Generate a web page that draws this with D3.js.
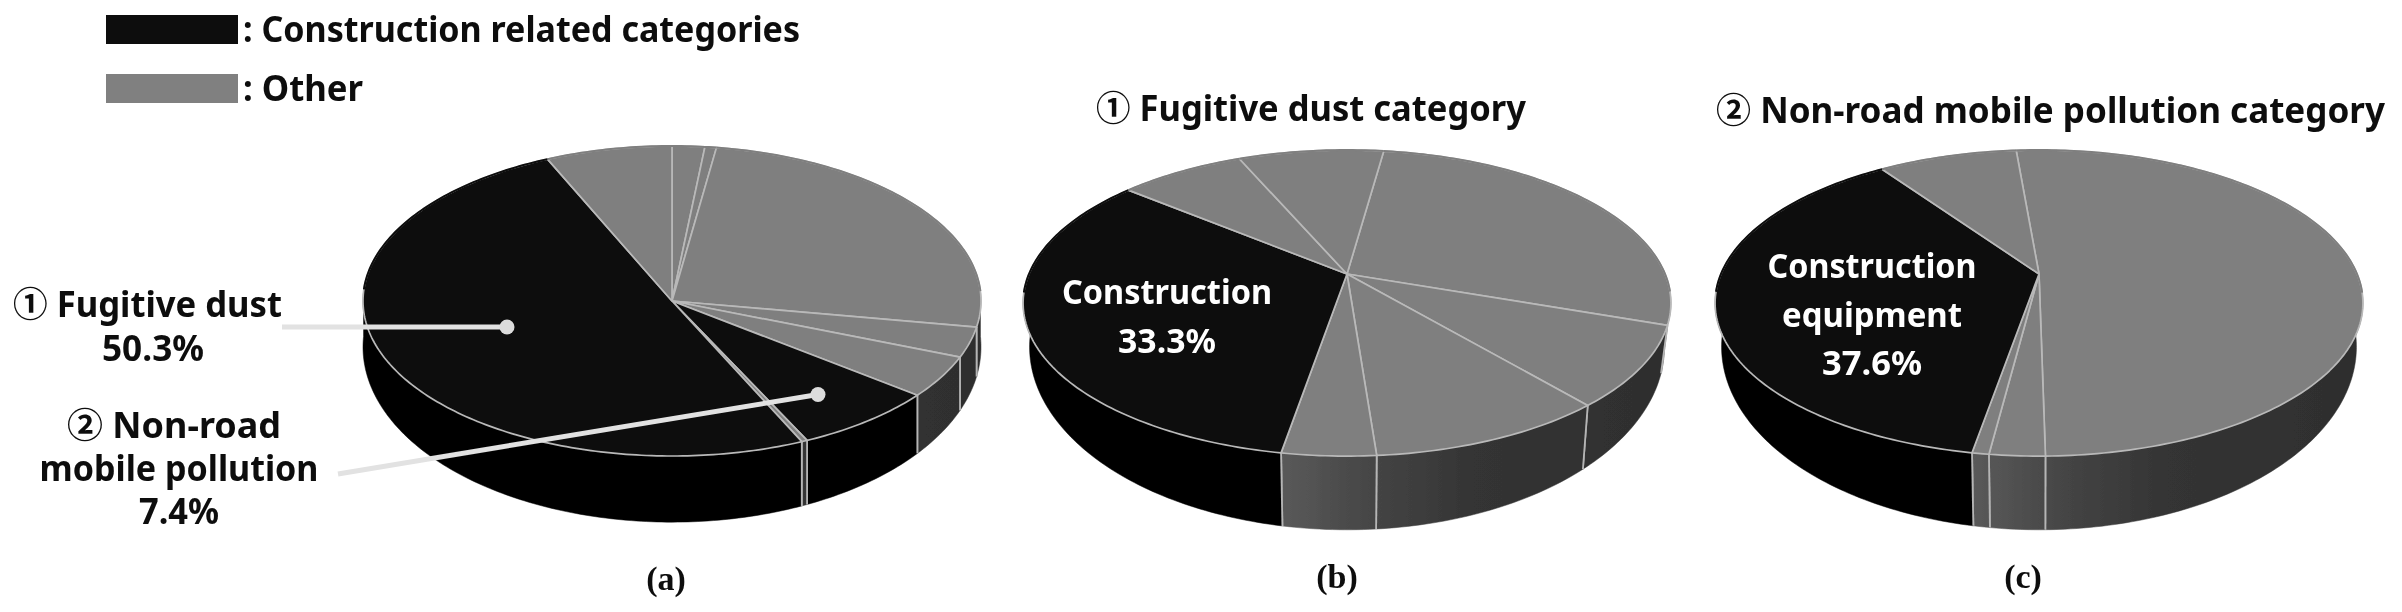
<!DOCTYPE html>
<html><head><meta charset="utf-8">
<script src="https://cdn.jsdelivr.net/npm/d3@7"></script>
<style>html,body{margin:0;padding:0;background:#fff;overflow:hidden}
text{font-family:"Noto Sans","Noto Sans CJK KR",sans-serif;font-weight:700;fill:#0a0a0a}
.cap{font-family:"Liberation Serif",serif;font-weight:700}
</style></head><body><svg id="c" width="2402" height="612"></svg>
<script>
// share of each slice (percent), clockwise; "c" = construction related, "o" = other
const valuesA = [1.7, 0.6, 25.4, 3.2, 4.5, 7.4, 0.3, 50.3, 6.6];
const groupsA = ["o","o","o","o","o","c","o","c","o"];
const valuesB = [28.1, 8.5, 10.0, 3.9, 33.3, 7.5, 8.7];
const groupsB = ["o","o","o","o","c","o","o"];
const valuesC = [51.1, 2.3, 0.7, 37.6, 8.3];
const groupsC = ["o","o","o","c","o"];
const startA = 0, startB = 7.9, startC = 355.1;
const legendLabels = [": Construction related categories", ": Other"];

const svg = d3.select("#c");
const defs = svg.append("defs");
defs.append("filter").attr("id","soft").attr("x","-5%").attr("y","-5%").attr("width","110%").attr("height","110%")
  .append("feGaussianBlur").attr("stdDeviation",0.7);
const root = svg.append("g").attr("filter","url(#soft)");

function drawPie(id, values, groups, startDeg, cfg){
  const {cx, cy, a, b, k, dz, sx, sy} = cfg;
  const pie = d3.pie().sort(null).startAngle(startDeg*Math.PI/180).endAngle((startDeg+360)*Math.PI/180);
  const arcs = pie(values);
  const top = t => { const u=Math.sin(t), v=-Math.cos(t), w=1-k*v; return [cx+a*u/w, cy+b*v/w]; };
  const bot = t => { const p=top(t); return [cx+(p[0]-cx)*sx, cy+dz+(p[1]-cy)*sy]; };
  const line = d3.line();
  const samples = (t0,t1) => { const n=Math.max(2,Math.ceil(Math.abs(t1-t0)*60));
    return d3.range(n+1).map(i=>t0+(t1-t0)*i/n); };

  const grad = defs.append("linearGradient").attr("id","wall"+id).attr("gradientUnits","userSpaceOnUse")
    .attr("x1",cx-67).attr("x2",cx+318).attr("y1",0).attr("y2",0);
  [[0,"#5a5a5a"],[0.25,"#444444"],[0.5,"#343434"],[1,"#2e2e2e"]]
    .forEach(st=>grad.append("stop").attr("offset",st[0]).attr("stop-color",st[1]));

  const tr = Math.acos(-k)-0.06, tl = 2*Math.PI-Math.acos(-k)+0.06;
  const walls = root.append("g"), tops = root.append("g");
  arcs.forEach((d,i)=>{
    for (const off of [0, 2*Math.PI, -2*Math.PI]) {
      const t0=Math.max(d.startAngle+off,tr), t1=Math.min(d.endAngle+off,tl);
      if (t1<=t0) continue;
      const ss=samples(t0,t1);
      const poly=ss.map(top).concat(ss.slice().reverse().map(bot));
      const col=groups[i]==="c"?"#050505":`url(#wall${id})`;
      walls.append("path").attr("d",line(poly)+"Z").attr("fill",col).attr("stroke",col).attr("stroke-width",0.5);
      [[t0,d.startAngle+off],[t1,d.endAngle+off]].forEach(([t,e])=>{
        if (Math.abs(t-e)<1e-6) walls.append("path").attr("d",line([top(t),bot(t)]))
          .attr("stroke","#b5b5b5").attr("stroke-width",1.8).attr("fill","none");
      });
    }
  });
  arcs.forEach((d,i)=>{
    const rim=samples(d.startAngle,d.endAngle).map(top);
    tops.append("path").attr("d",line([[cx,cy],...rim])+"Z")
      .attr("fill",groups[i]==="c"?"#0c0c0c":"#7f7f7f")
      .attr("stroke","#b9b9b9").attr("stroke-width",1.7).attr("stroke-linejoin","round");
  });
  // no bright edge along the back of the disc
  arcs.forEach((d,i)=>{
    const ss=samples(d.startAngle,d.endAngle).filter(t=>{const n=((t%(2*Math.PI))+2*Math.PI)%(2*Math.PI);return n<tr||n>tl;});
    if(ss.length>1) tops.append("path").attr("d",line(ss.map(top))).attr("fill","none")
      .attr("stroke",groups[i]==="c"?"#0c0c0c":"#7f7f7f").attr("stroke-width",2);
  });
}

drawPie("A",valuesA,groupsA,startA,{cx:672,cy:301,a:309,b:155,k:0,dz:46,sx:1,sy:1.13});
drawPie("B",valuesB,groupsB,startB,{cx:1347,cy:274,a:318,b:147.5,k:0.19,dz:38,sx:0.98,sy:1.196});
drawPie("C",valuesC,groupsC,startC,{cx:2039,cy:274,a:318,b:147.5,k:0.19,dz:38,sx:0.98,sy:1.196});

// legend
[["#0a0a0a",15,29],["#808080",74,29]].forEach(r=>root.append("rect").attr("x",106).attr("y",r[1]).attr("width",132).attr("height",r[2]).attr("fill",r[0]));
const T=(x,y,s,o={})=>{const t=root.append("text").attr("x",x).attr("y",y).text(s).attr("font-size",o.fs||35).attr("text-anchor",o.a||"middle");
  if(o.w)t.attr("textLength",o.w).attr("lengthAdjust","spacingAndGlyphs");
  if(o.c)t.style("fill",o.c); if(o.cl)t.attr("class",o.cl); return t;};
T(243,42,legendLabels[0],{a:"start",w:557});
T(243,101,legendLabels[1],{a:"start",w:120});

// leader lines
[[282,327,507,327],[338,474,818,394.5]].forEach(l=>{
  root.append("line").attr("x1",l[0]).attr("y1",l[1]).attr("x2",l[2]).attr("y2",l[3]).attr("stroke","#e2e2e2").attr("stroke-width",5);
  root.append("circle").attr("cx",l[2]).attr("cy",l[3]).attr("r",7.5).attr("fill","#dcdcdc");
});

// labels
T(147.5,317,"① Fugitive dust",{w:269});
T(153,361,"50.3%",{w:102});
T(174,438,"② Non-road",{w:214});
T(179,481,"mobile pollution",{w:279});
T(179,524,"7.4%",{w:80});
T(1311,121,"① Fugitive dust category",{w:430});
T(2050.5,123,"② Non-road mobile pollution category",{w:669});
T(1167,304,"Construction",{c:"#fff",w:210,fs:34});
T(1167,353,"33.3%",{c:"#fff",w:98,fs:34});
T(1872,278,"Construction",{c:"#fff",w:209,fs:34});
T(1872,327,"equipment",{c:"#fff",w:180,fs:34});
T(1872,375,"37.6%",{c:"#fff",w:100,fs:34});
T(666,590,"(a)",{cl:"cap",fs:34});
T(1337,588,"(b)",{cl:"cap",fs:34});
T(2023,588,"(c)",{cl:"cap",fs:34});
</script></body></html>
